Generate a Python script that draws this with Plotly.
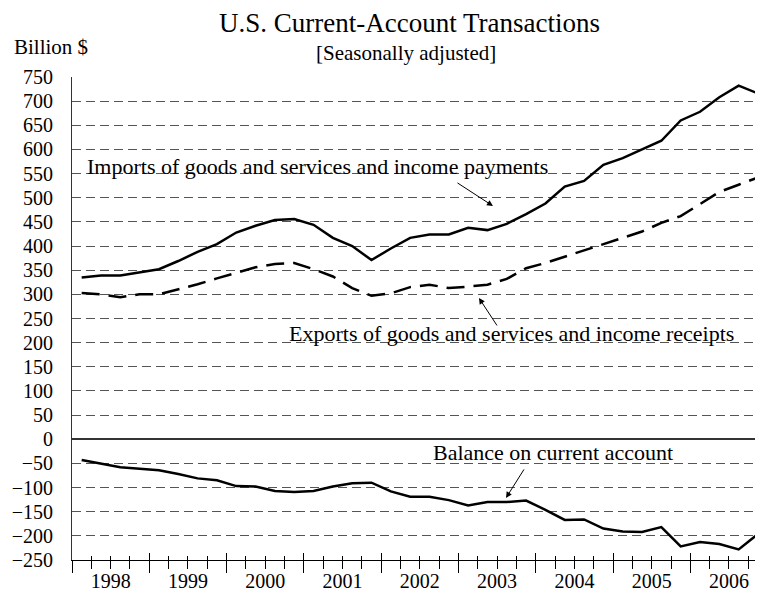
import plotly.graph_objects as go

# ---------------- data (billions of dollars, quarterly, seasonally adjusted) ----------------
years = [1998, 1999, 2000, 2001, 2002, 2003, 2004, 2005, 2006]
quarters = [1, 2, 3, 4]

imports = [335, 339, 339, 345, 352, 369, 388, 404,
           428, 442, 454, 456, 444, 417, 400, 371,
           395, 417, 424, 424, 438, 433, 446, 466,
           488, 523, 535, 568, 582, 600, 618, 660,
           678, 708, 732, 716]

exports = [303, 300, 294, 300, 300, 310, 321, 333,
           345, 356, 363, 365, 352, 337, 313, 297,
           302, 315, 320, 313, 316, 320, 332, 354,
           365, 378, 390, 403, 416, 430, 448, 462,
           487, 512, 527, 542]

balance = [-43, -51, -58, -61, -64, -72, -81, -85,
           -97, -98, -107, -109, -107, -98, -91, -90,
           -108, -119, -119, -126, -137, -130, -130, -127,
           -146, -167, -166, -185, -191, -192, -182, -222,
           -213, -217, -228, -196]

year_labels = [str(y) for y in years]
y_ticks = list(range(-250, 751, 50))

# quarter midpoints on a continuous year scale
xpos = [y + (q - 0.5) / 4 for y in years for q in quarters]
year_bounds = years + [years[-1] + 1]
label_pos = [y + 0.5 for y in years]

FONT = "Liberation Serif, Times New Roman, serif"
XR = [1998, 2006.94]

fig = go.Figure()
fig.add_trace(go.Scatter(x=xpos, y=imports, mode="lines",
                         line=dict(color="black", width=2.5), showlegend=False,
                         name="Imports"))
fig.add_trace(go.Scatter(x=xpos, y=exports, mode="lines",
                         line=dict(color="black", width=2.5, dash="18px,9px"),
                         showlegend=False, name="Exports"))
fig.add_trace(go.Scatter(x=xpos, y=balance, mode="lines",
                         line=dict(color="black", width=2.5), showlegend=False,
                         name="Balance"))
# invisible traces to register overlay tick axes
fig.add_trace(go.Scatter(x=xpos, y=balance, mode="none", xaxis="x2",
                         showlegend=False, hoverinfo="skip"))
fig.add_trace(go.Scatter(x=xpos, y=balance, mode="none", xaxis="x3",
                         showlegend=False, hoverinfo="skip"))

# page body adds an 8px margin; figure is sized to fill the rest of the window
fig.update_layout(
    width=755, height=589,
    margin=dict(l=64, r=0, t=69, b=37),
    paper_bgcolor="white", plot_bgcolor="white",
    font=dict(family=FONT, color="black"),
    xaxis=dict(range=XR, tickvals=label_pos, ticktext=year_labels, ticks="",
               showgrid=False, zeroline=False, showline=True,
               linecolor="black", linewidth=1,
               tickfont=dict(family=FONT, size=20, color="black"),
               ticklabelstandoff=3),
    xaxis2=dict(range=XR, overlaying="x", anchor="y", side="bottom",
                tickvals=year_bounds, ticks="outside", ticklen=12,
                tickcolor="black", tickwidth=1, showticklabels=False,
                showgrid=False, zeroline=False, showline=False,
                minor=dict(tick0=1998, dtick=0.25, ticks="outside", ticklen=8,
                           tickcolor="black", tickwidth=1, showgrid=False)),
    xaxis3=dict(range=XR, overlaying="x", anchor="y", side="bottom",
                tickvals=year_bounds, ticks="inside", ticklen=7,
                tickcolor="black", tickwidth=1, showticklabels=False,
                showgrid=False, zeroline=False, showline=False,
                minor=dict(tick0=1998, dtick=0.25, ticks="inside", ticklen=4,
                           tickcolor="black", tickwidth=1, showgrid=False)),
    yaxis=dict(range=[-250, 750], tickvals=y_ticks, ticks="",
               showgrid=True, gridcolor="#555", gridwidth=1, griddash="9px,5px",
               zeroline=True, zerolinecolor="#333", zerolinewidth=1.5,
               showline=True, linecolor="#333", linewidth=1,
               tickfont=dict(family=FONT, size=20, color="black"),
               ticklabelstandoff=14),
)

annotations = [
    dict(text="U.S. Current-Account Transactions", xref="paper", yref="paper",
         x=0.489, y=1.1118, xanchor="center", yanchor="middle", showarrow=False,
         font=dict(family=FONT, size=27, color="black")),
    dict(text="[Seasonally adjusted]", xref="paper", yref="paper",
         x=0.4834, y=1.0505, xanchor="center", yanchor="middle", showarrow=False,
         font=dict(family=FONT, size=21, color="black")),
    dict(text="Billion $", xref="paper", yref="paper",
         x=-0.0873, y=1.062, xanchor="left", yanchor="middle", showarrow=False,
         font=dict(family=FONT, size=21, color="black")),
    dict(text="Imports of goods and services and income payments", xref="x", yref="y",
         x=2001.18, y=564, xanchor="center", yanchor="middle", showarrow=False,
         font=dict(family=FONT, size=22, color="black")),
    dict(text="Exports of goods and services and income receipts", xref="x", yref="y",
         x=2003.68, y=218, xanchor="center", yanchor="middle", showarrow=False,
         font=dict(family=FONT, size=22, color="black")),
    dict(text="Balance on current account", xref="x", yref="y",
         x=2004.22, y=-28, xanchor="center", yanchor="middle", showarrow=False,
         font=dict(family=FONT, size=22, color="black")),
    # arrows
    dict(text="", xref="x", yref="y", axref="x", ayref="y",
         x=2003.446, y=483, ax=2002.968, ay=532.7, showarrow=True,
         arrowhead=2, arrowsize=1.2, arrowwidth=1, arrowcolor="black"),
    dict(text="", xref="x", yref="y", axref="x", ayref="y",
         x=2003.265, y=292.5, ax=2003.511, ay=232.5, showarrow=True,
         arrowhead=2, arrowsize=1.2, arrowwidth=1, arrowcolor="black"),
    dict(text="", xref="x", yref="y", axref="x", ayref="y",
         x=2003.615, y=-121.5, ax=2003.86, ay=-59.4, showarrow=True,
         arrowhead=2, arrowsize=1.2, arrowwidth=1, arrowcolor="black"),
]
fig.update_layout(annotations=annotations)

fig.write_html("out.html")
